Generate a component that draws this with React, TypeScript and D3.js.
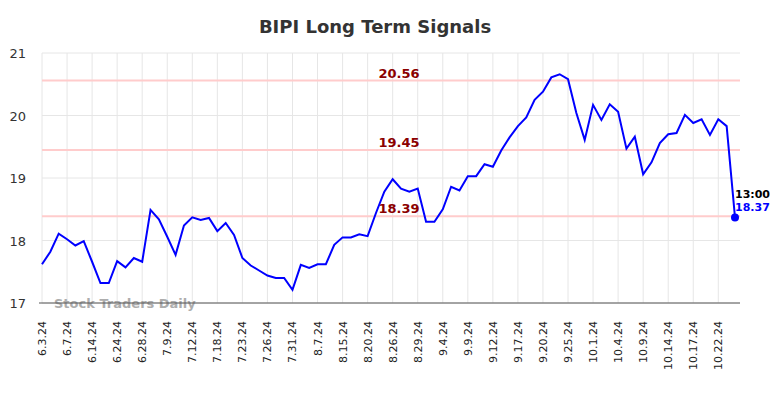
import React, { useEffect, useRef } from 'react';
import * as d3 from 'd3';

const tickLabels = [
  '6.3.24', '6.7.24', '6.14.24', '6.24.24', '6.28.24', '7.9.24', '7.12.24', '7.18.24',
  '7.23.24', '7.26.24', '7.31.24', '8.7.24', '8.15.24', '8.20.24', '8.26.24', '8.29.24',
  '9.4.24', '9.9.24', '9.12.24', '9.17.24', '9.20.24', '9.25.24', '10.1.24', '10.4.24',
  '10.9.24', '10.14.24', '10.17.24', '10.22.24',
];

const prices = [
  17.62, 17.82, 18.11, 18.02, 17.92, 17.99, 17.66, 17.32, 17.32, 17.67, 17.57, 17.72,
  17.66, 18.49, 18.34, 18.06, 17.77, 18.24, 18.37, 18.33, 18.36, 18.15, 18.28, 18.09,
  17.72, 17.60, 17.52, 17.44, 17.40, 17.40, 17.21, 17.61, 17.56, 17.62, 17.62, 17.93,
  18.05, 18.05, 18.10, 18.07, 18.44, 18.78, 18.98, 18.83, 18.78, 18.83, 18.30, 18.30,
  18.50, 18.86, 18.80, 19.03, 19.03, 19.22, 19.18, 19.44, 19.65, 19.83, 19.97, 20.25,
  20.38, 20.61, 20.66, 20.58, 20.04, 19.61, 20.17, 19.93, 20.18, 20.06, 19.47, 19.66,
  19.06, 19.25, 19.56, 19.70, 19.72, 20.01, 19.88, 19.94, 19.69, 19.94, 19.83, 18.37,
];

const signalLevels = [20.56, 19.45, 18.39];
const yTicks = [17, 18, 19, 20, 21];
const lastTime = '13:00';

const W = 784;
const H = 398;

const App: React.FC = () => {
  const svgRef = useRef<SVGSVGElement>(null);

  useEffect(() => {
    if (!svgRef.current) return;
    const svg = d3.select(svgRef.current);
    svg.selectAll('*').remove();

    const left = 42, right = 740, top = 53, bottom = 303;
    const font = 'DejaVu Sans, sans-serif';

    const x = d3.scaleLinear().domain([0, prices.length - 1]).range([left, 735]);
    const y = d3.scaleLinear().domain([17, 21]).range([bottom, top]);

    svg.append('rect').attr('width', W).attr('height', H).attr('fill', '#fff');

    // title
    svg.append('text')
      .attr('x', 375).attr('y', 33)
      .attr('text-anchor', 'middle')
      .style('font-family', font).style('font-size', '18px').style('font-weight', 'bold')
      .attr('fill', '#333')
      .text('BIPI Long Term Signals');

    // grid
    svg.append('g').selectAll('line')
      .data(yTicks)
      .enter().append('line')
      .attr('x1', left).attr('x2', right)
      .attr('y1', d => y(d)).attr('y2', d => y(d))
      .attr('stroke', '#e6e6e6').attr('stroke-width', 1);

    svg.append('g').selectAll('line')
      .data(tickLabels)
      .enter().append('line')
      .attr('x1', (d, i) => x(i * 3)).attr('x2', (d, i) => x(i * 3))
      .attr('y1', top).attr('y2', bottom)
      .attr('stroke', '#e6e6e6').attr('stroke-width', 1);

    // y labels
    svg.append('g').selectAll('text')
      .data(yTicks)
      .enter().append('text')
      .attr('x', 26).attr('y', d => y(d) + 5)
      .attr('text-anchor', 'end')
      .style('font-family', font).style('font-size', '13px')
      .attr('fill', '#333')
      .text(d => d);

    // x labels
    svg.append('g').selectAll('text')
      .data(tickLabels)
      .enter().append('text')
      .attr('transform', (d, i) => `translate(${x(i * 3) + 4},321) rotate(-90)`)
      .attr('text-anchor', 'end')
      .style('font-family', font).style('font-size', '11px')
      .attr('fill', '#222')
      .text(d => d);

    // signal lines
    svg.append('g').selectAll('line')
      .data(signalLevels)
      .enter().append('line')
      .attr('x1', left).attr('x2', right)
      .attr('y1', d => y(d)).attr('y2', d => y(d))
      .attr('stroke', '#ffcccc').attr('stroke-width', 2);

    svg.append('g').selectAll('text')
      .data(signalLevels)
      .enter().append('text')
      .attr('x', 399).attr('y', d => y(d) - 3)
      .attr('text-anchor', 'middle')
      .style('font-family', font).style('font-size', '13px').style('font-weight', 'bold')
      .attr('fill', '#8b0000')
      .text(d => d.toFixed(2));

    // watermark
    svg.append('text')
      .attr('x', 54).attr('y', 308)
      .style('font-family', font).style('font-size', '13px').style('font-weight', 'bold')
      .attr('fill', '#999').attr('opacity', 0.8)
      .text('Stock Traders Daily');

    // axis line
    svg.append('line')
      .attr('x1', 39).attr('x2', right)
      .attr('y1', bottom).attr('y2', bottom)
      .attr('stroke', '#555').attr('stroke-width', 1);

    // price line
    svg.append('path')
      .datum(prices)
      .attr('fill', 'none')
      .attr('stroke', '#0000ff')
      .attr('stroke-width', 2)
      .attr('d', d3.line<number>().x((d, i) => x(i)).y(d => y(d)));

    const li = prices.length - 1;
    const last = prices[li];
    svg.append('circle')
      .attr('cx', x(li)).attr('cy', y(last))
      .attr('r', 4).attr('fill', '#0000ff');

    svg.append('text')
      .attr('x', x(li)).attr('y', y(last) - 19)
      .style('font-family', font).style('font-size', '11px').style('font-weight', 'bold')
      .attr('fill', '#000')
      .text(lastTime);

    svg.append('text')
      .attr('x', x(li)).attr('y', y(last) - 6)
      .style('font-family', font).style('font-size', '11px').style('font-weight', 'bold')
      .attr('fill', '#0000ff')
      .text(last.toFixed(2));
  }, []);

  return (
    <div style={{ position: 'absolute', left: 0, top: 0 }}>
      <svg ref={svgRef} width={W} height={H} viewBox={`0 0 ${W} ${H}`} style={{ display: 'block' }}></svg>
    </div>
  );
};

export default App;
